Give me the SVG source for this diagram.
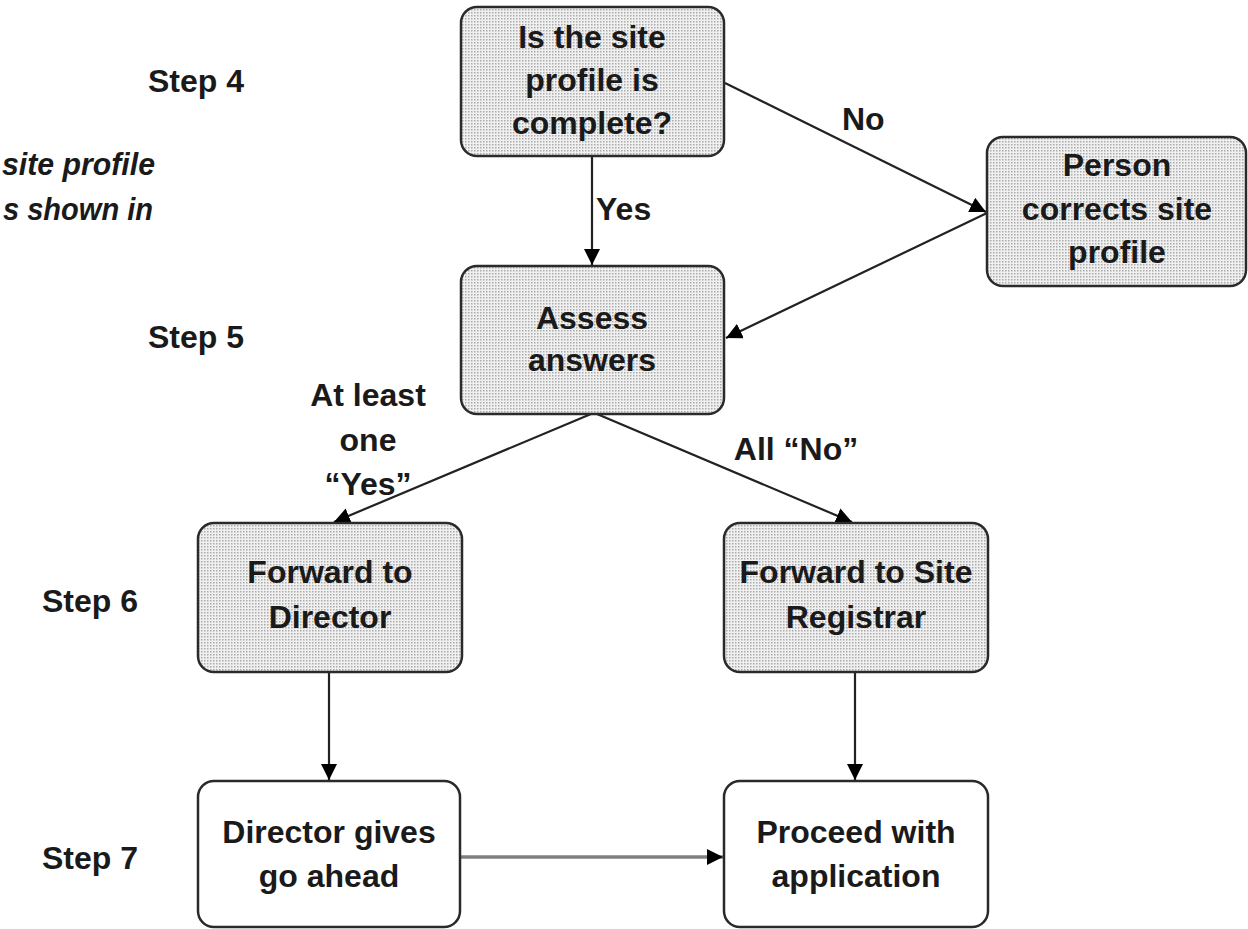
<svg xmlns="http://www.w3.org/2000/svg" width="1248" height="929" viewBox="0 0 1248 929">
<defs>
<pattern id="dots" width="3" height="3" patternUnits="userSpaceOnUse">
<rect width="3" height="3" fill="#f0f0f0"/>
<rect width="1.5" height="1.5" fill="#ababab"/>
</pattern>
<marker id="ah" viewBox="0 0 16 16" refX="16" refY="8" markerWidth="16" markerHeight="16" markerUnits="userSpaceOnUse" orient="auto">
<path d="M0,0 L16,8 L0,16 Z" fill="#000"/>
</marker>
</defs>
<style>
.box{stroke:#2a2a2a;stroke-width:2.5}
.shaded{fill:url(#dots)}
.plain{fill:#fff}
text{font-family:"Liberation Sans",Arial,sans-serif;font-size:32px;font-weight:bold;fill:#1a1a1a}
.c{text-anchor:middle}
.it{font-style:italic}
.ln{stroke:#222;stroke-width:2.2;fill:none;marker-end:url(#ah)}
.gl{stroke:#808080;stroke-width:3.5;fill:none;marker-end:url(#ah)}
</style>
<rect width="1248" height="929" fill="#fff"/>

<g id="side-labels">
<text x="148" y="92">Step 4</text>
<text x="148" y="348">Step 5</text>
<text x="42" y="612">Step 6</text>
<text x="42" y="869">Step 7</text>
<text class="it" x="2" y="175" textLength="153" lengthAdjust="spacingAndGlyphs">site profile</text>
<text class="it" x="3" y="220" textLength="150" lengthAdjust="spacingAndGlyphs">s shown in</text>
</g>

<g id="connectors">
<line class="ln" x1="592" y1="156" x2="592" y2="265"/>
<line class="ln" x1="725" y1="83" x2="986" y2="212"/>
<line class="ln" x1="987" y1="213" x2="726" y2="338"/>
<line class="ln" x1="591" y1="414" x2="334" y2="522"/>
<line class="ln" x1="597" y1="414" x2="852" y2="522"/>
<line class="ln" x1="329" y1="672" x2="329" y2="780"/>
<line class="ln" x1="855" y1="672" x2="855" y2="780"/>
<line class="gl" x1="459" y1="857" x2="723" y2="857"/>
<text x="596" y="220">Yes</text>
<text x="842" y="130">No</text>
<text class="c" x="368" y="406">At least</text>
<text class="c" x="368" y="451">one</text>
<text class="c" x="368" y="495">“Yes”</text>
<text class="c" x="796" y="460">All “No”</text>
</g>

<g id="n-complete">
<rect class="box shaded" x="461" y="7" width="263" height="149" rx="16"/>
<text class="c" x="592" y="48">Is the site</text>
<text class="c" x="592" y="91">profile is</text>
<text class="c" x="592" y="134">complete?</text>
</g>

<g id="n-person">
<rect class="box shaded" x="987" y="137" width="259" height="149" rx="16"/>
<text class="c" x="1117" y="176">Person</text>
<text class="c" x="1117" y="220">corrects site</text>
<text class="c" x="1117" y="263">profile</text>
</g>

<g id="n-assess">
<rect class="box shaded" x="461" y="266" width="263" height="148" rx="16"/>
<text class="c" x="592" y="329">Assess</text>
<text class="c" x="592" y="371">answers</text>
</g>

<g id="n-director">
<rect class="box shaded" x="198" y="523" width="264" height="149" rx="16"/>
<text class="c" x="330" y="583">Forward to</text>
<text class="c" x="330" y="628">Director</text>
</g>

<g id="n-registrar">
<rect class="box shaded" x="724" y="523" width="264" height="149" rx="16"/>
<text class="c" x="856" y="583">Forward to Site</text>
<text class="c" x="856" y="628">Registrar</text>
</g>

<g id="n-goahead">
<rect class="box plain" x="198" y="781" width="262" height="146" rx="16"/>
<text class="c" x="329" y="843">Director gives</text>
<text class="c" x="329" y="887">go ahead</text>
</g>

<g id="n-proceed">
<rect class="box plain" x="724" y="781" width="264" height="146" rx="16"/>
<text class="c" x="856" y="843">Proceed with</text>
<text class="c" x="856" y="887">application</text>
</g>
</svg>
